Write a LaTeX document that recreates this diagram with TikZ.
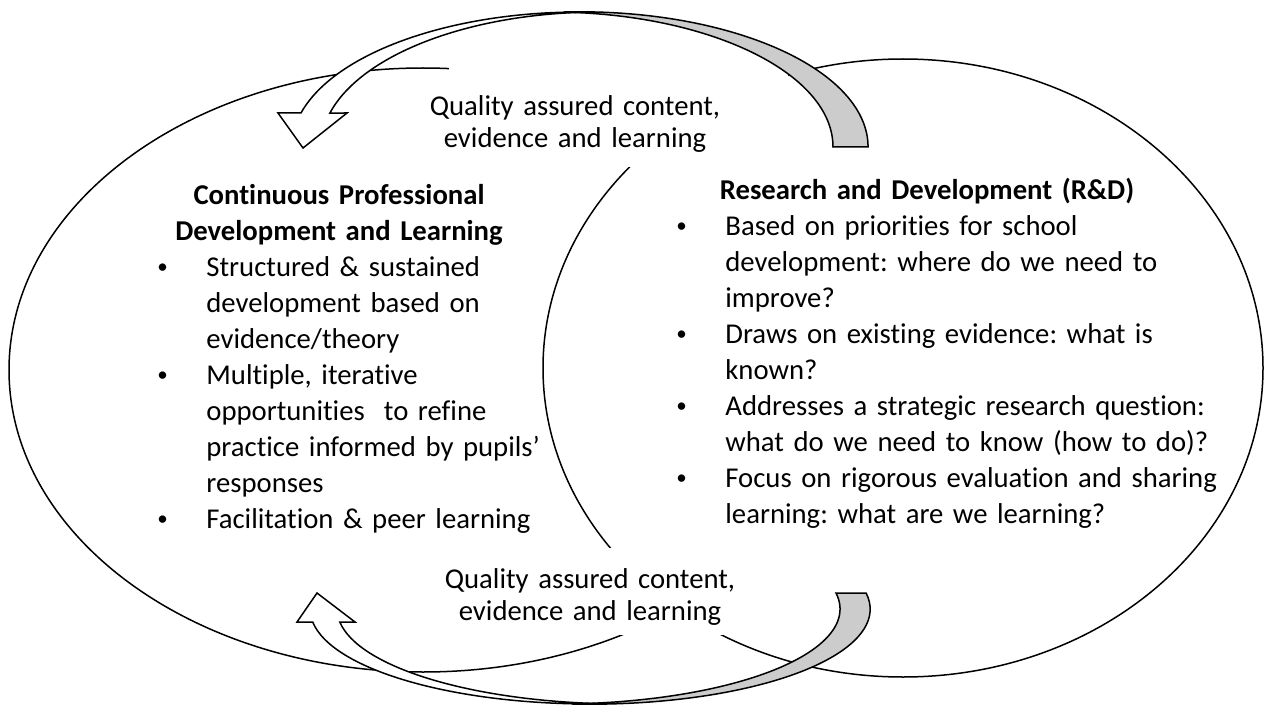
\documentclass[tikz,border=0pt]{standalone}
\usepackage{fontspec}
\setmainfont{Carlito}[Ligatures=NoCommon]
\usetikzlibrary{positioning}
\frenchspacing

\newcommand\firstline{\rule{0pt}{12pt}}
\newcommand\bulletmark{\hspace*{1.5pt}\raisebox{1.4pt}{\fontsize{10.5pt}{10.5pt}\selectfont\textbullet}}
\newcommand\bitem[1]{\noindent\hangindent=26pt\hangafter=1\firstline\makebox[26pt][l]{\bulletmark}#1\par}

\begin{document}
\begin{tikzpicture}[x=0.5pt,y=-0.5pt,
    ring/.style={draw,line width=0.75pt,fill=white},
    front/.style={draw,line width=0.75pt,fill=white},
    back/.style={draw,line width=0.75pt,fill=gray!40},
    heading/.style={inner sep=0pt,anchor=north,align=center,text width=270pt,
                    font=\bfseries\fontsize{14.35pt}{18pt}\selectfont},
    points/.style={inner sep=0pt,anchor=north west,
                   font=\fontsize{14.35pt}{18pt}\selectfont},
    blurb/.style={inner sep=0pt,anchor=north,align=center,text width=200pt,
                  font=\fontsize{14.35pt}{16pt}\selectfont}]
\useasboundingbox (0,0) rectangle (1264,706);

% the two circles
\draw[ring] (423,370) ellipse [x radius=414, y radius=302];
\draw[ring] (903,368) ellipse [x radius=360, y radius=309];

% white behind the captions
\fill[white] (449,55) rectangle (788,167);
\fill[white] (440,548) rectangle (740,635);

\node[blurb] (toplbl) at (575,91) {\firstline Quality assured content,\\evidence and learning};
\node[blurb] (botlbl) at (590,564) {\firstline Quality assured content,\\evidence and learning};

\node[heading] (cpdtitle) at (339,180) {\firstline Continuous Professional\\Development and Learning};
\node[points,text width=230pt] (cpdlist) at (154,252) {%
  \bitem{Structured \& sustained\newline development based on\newline evidence/theory}%
  \bitem{Multiple, iterative\newline opportunities~ to refine\newline practice informed by pupils’\newline responses}%
  \bitem{Facilitation \& peer learning}};

\node[heading] (rdtitle) at (927,175) {\firstline Research and Development (R\&D)};
\node[points,text width=290pt] (rdlist) at (673,211) {%
  \bitem{Based on priorities for school\newline development: where do we need to\newline improve?}%
  \bitem{Draws on existing evidence: what is\newline known?}%
  \bitem{Addresses a strategic research question:\newline what do we need to know (how to do)?}%
  \bitem{Focus on rigorous evaluation and sharing\newline learning: what are we learning?}};

% upper arrow, tail at right, head at left
\draw[back] (565,12) arc[start angle=267, end angle=360, x radius=288, y radius=135]
  -- (833,147) arc[start angle=360, end angle=272.8, x radius=282, y radius=135] -- cycle;
\draw[front] (301,113) arc[start angle=194.6, end angle=272, x radius=288, y radius=135]
  arc[start angle=268.1, end angle=194.6, x radius=278, y radius=135]
  -- (347,113) -- (303,148) -- (278,113) -- cycle;

% lower arrow
\draw[back] (573.6,704) arc[start angle=93.4, end angle=-9.7, x radius=280, y radius=95]
  -- (836,593) arc[start angle=-9.7, end angle=86.6, x radius=283, y radius=95] -- cycle;
\draw[front] (312.7,622) arc[start angle=172.1, end angle=86.7, x radius=280, y radius=95]
  arc[start angle=93.4, end angle=172.1, x radius=286, y radius=95]
  -- (355,622) -- (317,593) -- (297,622) -- cycle;
\end{tikzpicture}
\end{document}
